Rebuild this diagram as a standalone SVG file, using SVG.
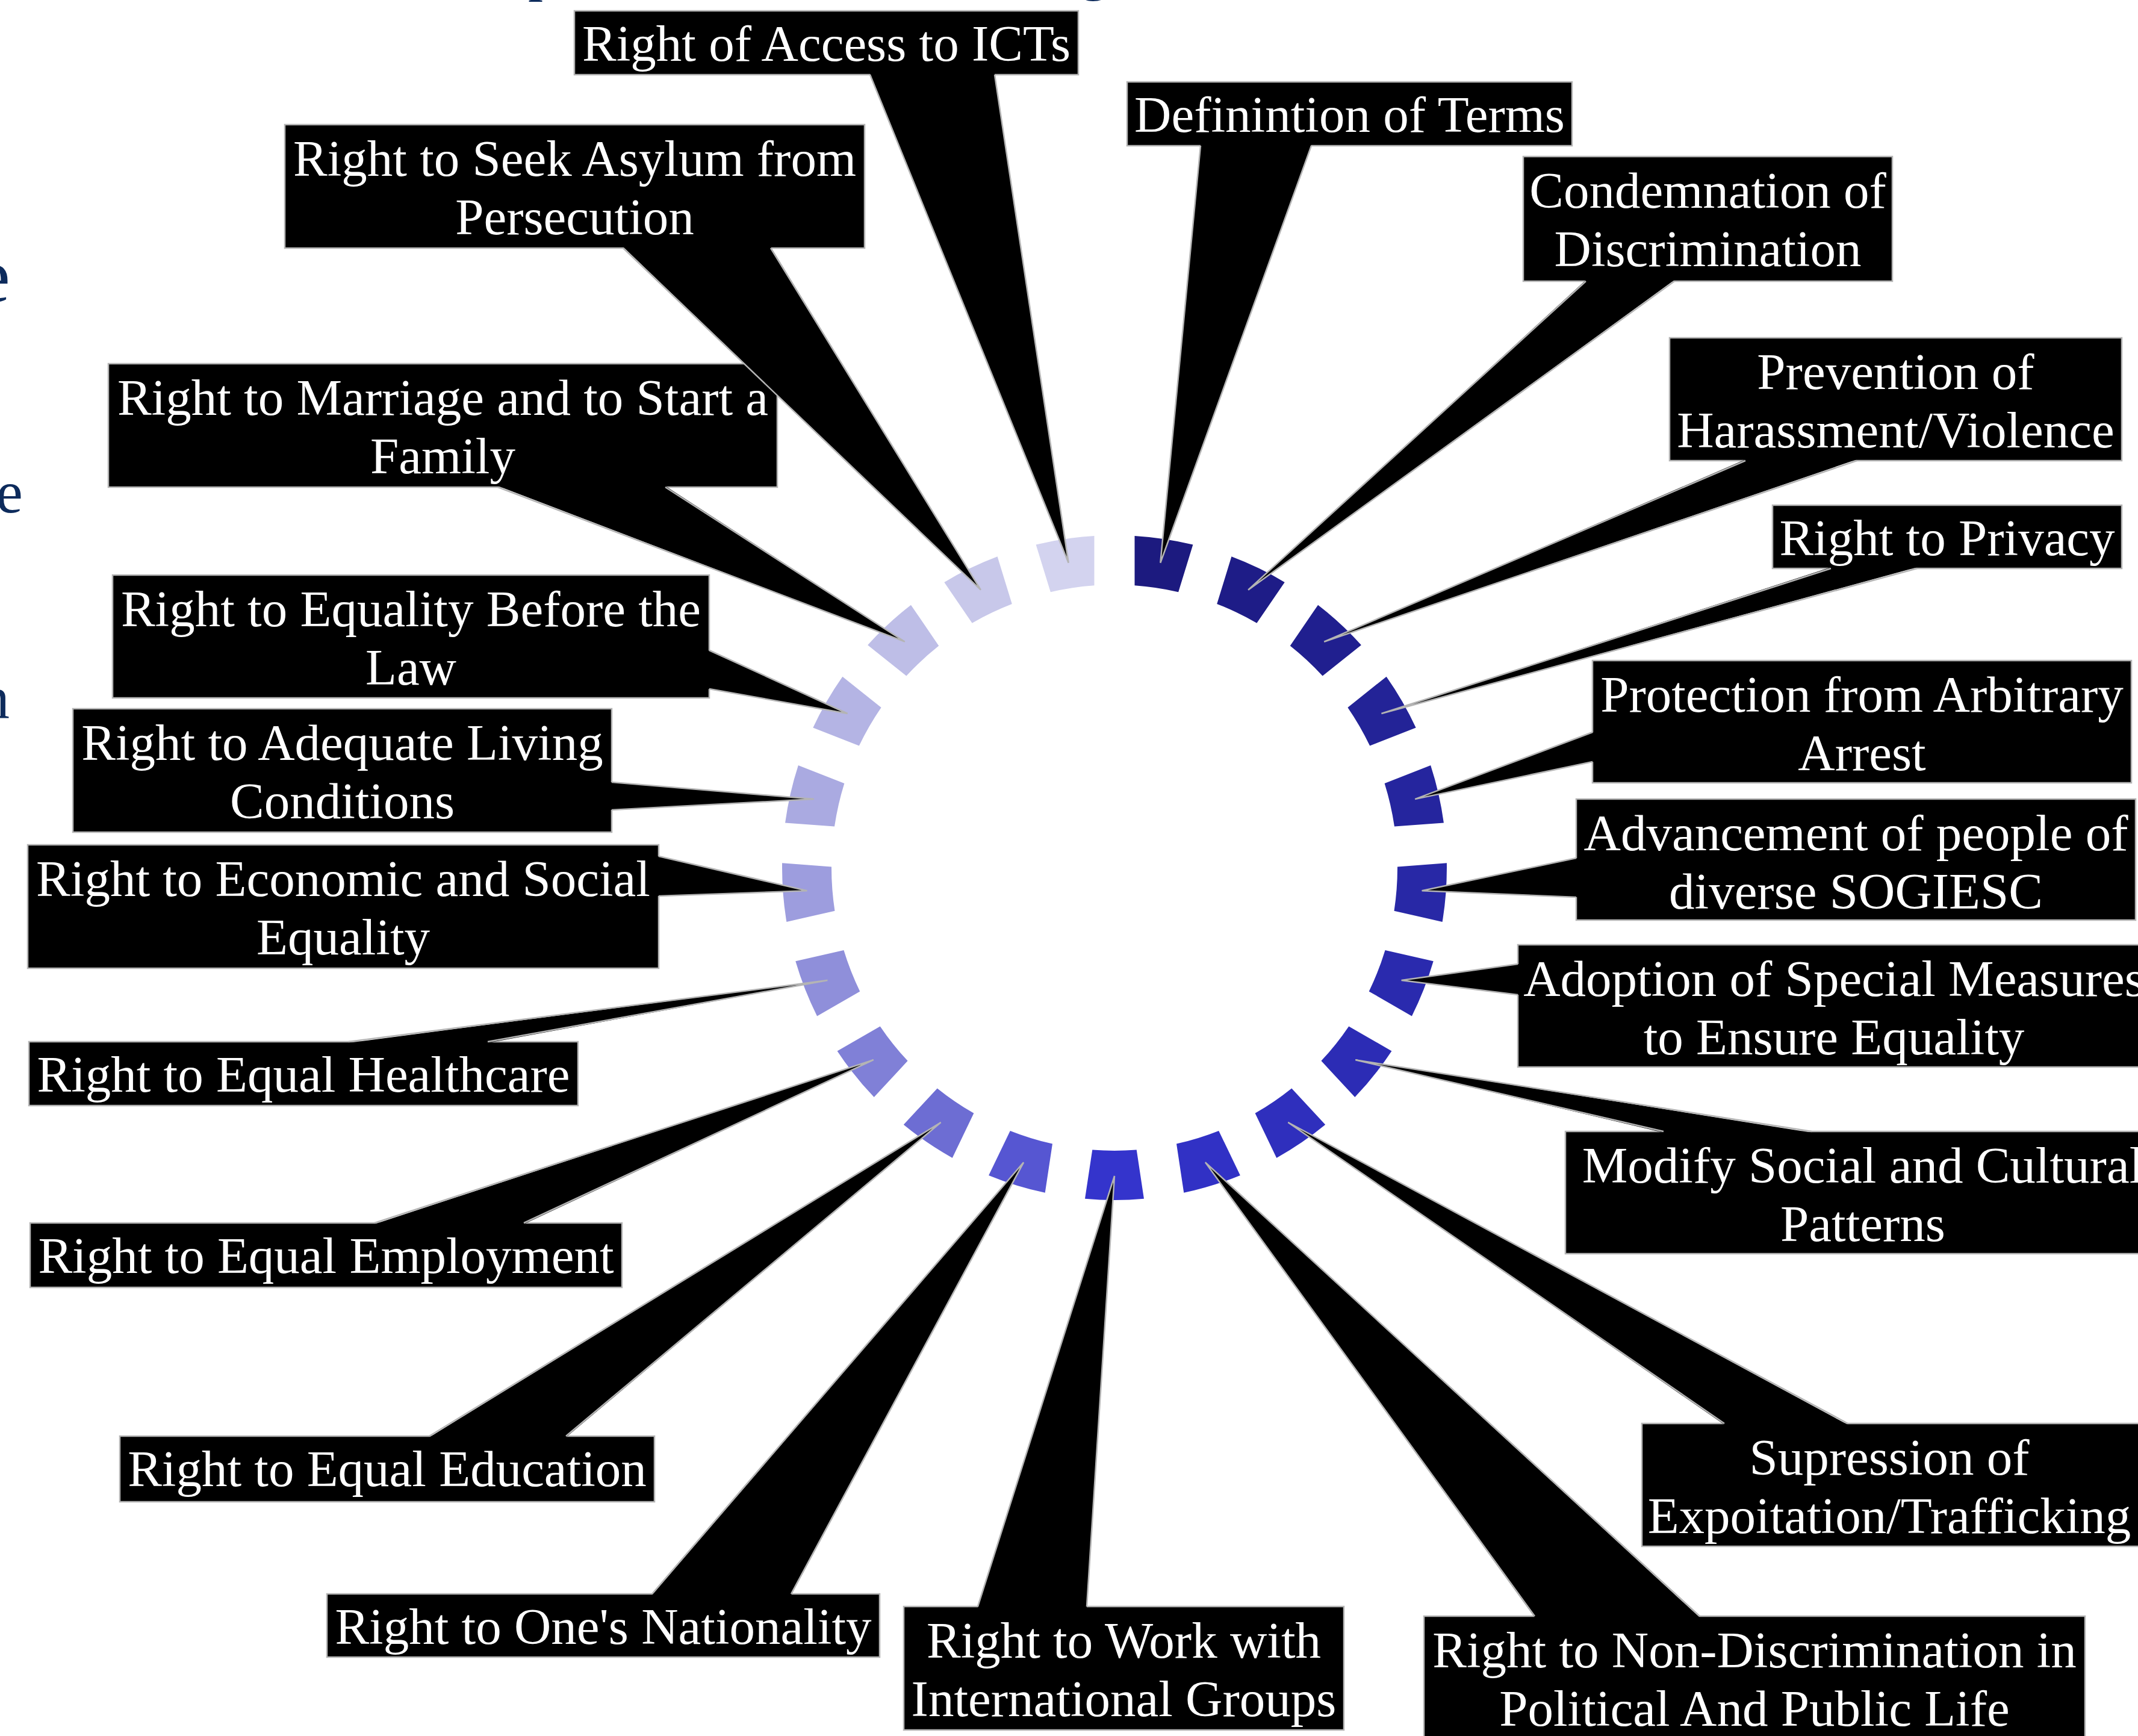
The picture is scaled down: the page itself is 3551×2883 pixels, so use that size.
<svg xmlns="http://www.w3.org/2000/svg" xmlns:xlink="http://www.w3.org/1999/xlink" width="3551" height="2883" viewBox="0 0 3551 2883">
<style>
.box{fill:#000;stroke:#b4b4b4;stroke-width:2.5}
.wedge{fill:#000}
.edge{fill:none;stroke:#b4b4b4;stroke-width:2.5}
.lbl{fill:#fff;font-family:"Liberation Serif","Times New Roman",serif;font-size:85px;text-anchor:middle}
.frag{fill:#0d2b5c;font-family:"Liberation Serif","Times New Roman",serif}
</style>
<defs>
<path id="seg" d="M-48.99,-549.82 A552,552 0 0 1 48.99,-549.82 L36.73,-468.56 A470,470 0 0 0 -36.73,-468.56 Z"/>
</defs>
<rect width="3551" height="2883" fill="#fff"/>
<g id="fragments">
<text class="frag" x="877" y="-18" font-size="100">p</text>
<text class="frag" x="1792" y="-19" font-size="100">g</text>
<text class="frag" x="17" y="501" font-size="130" text-anchor="end">e</text>
<text class="frag" x="38" y="851" font-size="100" text-anchor="end">e</text>
<text class="frag" x="16" y="1192" font-size="100" text-anchor="end">n</text>
</g>
<g id="ring">
<use xlink:href="#seg" href="#seg" fill="#1c1a7f" transform="translate(1851,1441) rotate(8.571)"/>
<use xlink:href="#seg" href="#seg" fill="#1e1c87" transform="translate(1851,1441) rotate(25.714)"/>
<use xlink:href="#seg" href="#seg" fill="#201f8f" transform="translate(1851,1441) rotate(42.857)"/>
<use xlink:href="#seg" href="#seg" fill="#232397" transform="translate(1851,1441) rotate(60)"/>
<use xlink:href="#seg" href="#seg" fill="#25259e" transform="translate(1851,1441) rotate(77.143)"/>
<use xlink:href="#seg" href="#seg" fill="#2828a6" transform="translate(1851,1441) rotate(94.286)"/>
<use xlink:href="#seg" href="#seg" fill="#2a2aae" transform="translate(1851,1441) rotate(111.429)"/>
<use xlink:href="#seg" href="#seg" fill="#2c2cb5" transform="translate(1851,1441) rotate(128.571)"/>
<use xlink:href="#seg" href="#seg" fill="#2f2fbd" transform="translate(1851,1441) rotate(145.714)"/>
<use xlink:href="#seg" href="#seg" fill="#3131c5" transform="translate(1851,1441) rotate(162.857)"/>
<use xlink:href="#seg" href="#seg" fill="#3434cc" transform="translate(1851,1441) rotate(180)"/>
<use xlink:href="#seg" href="#seg" fill="#5656d2" transform="translate(1851,1441) rotate(197.143)"/>
<use xlink:href="#seg" href="#seg" fill="#6d6dd3" transform="translate(1851,1441) rotate(214.286)"/>
<use xlink:href="#seg" href="#seg" fill="#8080d7" transform="translate(1851,1441) rotate(231.429)"/>
<use xlink:href="#seg" href="#seg" fill="#8f8fda" transform="translate(1851,1441) rotate(248.571)"/>
<use xlink:href="#seg" href="#seg" fill="#9d9dde" transform="translate(1851,1441) rotate(265.714)"/>
<use xlink:href="#seg" href="#seg" fill="#aaaae1" transform="translate(1851,1441) rotate(282.857)"/>
<use xlink:href="#seg" href="#seg" fill="#b4b4e4" transform="translate(1851,1441) rotate(300)"/>
<use xlink:href="#seg" href="#seg" fill="#bebee7" transform="translate(1851,1441) rotate(317.143)"/>
<use xlink:href="#seg" href="#seg" fill="#c8c8ea" transform="translate(1851,1441) rotate(334.286)"/>
<use xlink:href="#seg" href="#seg" fill="#d3d3ef" transform="translate(1851,1441) rotate(351.429)"/>
</g>
<g id="nodes">
<g id="n-icts"><rect class="box" x="954" y="18" width="837" height="106"/><text class="lbl" x="1372.5" y="101">Right of Access to ICTs</text></g>
<g id="n-asylum"><rect class="box" x="473" y="207" width="963" height="205"/><text class="lbl" x="954.5" y="292">Right to Seek Asylum from</text><text class="lbl" x="954.5" y="389">Persecution</text></g>
<g id="n-marriage"><rect class="box" x="180" y="604" width="1111" height="205"/><text class="lbl" x="735.5" y="689">Right to Marriage and to Start a</text><text class="lbl" x="735.5" y="786">Family</text></g>
<g id="n-equality"><rect class="box" x="187" y="955" width="991" height="204"/><text class="lbl" x="682.5" y="1040">Right to Equality Before the</text><text class="lbl" x="682.5" y="1137">Law</text></g>
<g id="n-living"><rect class="box" x="121" y="1177" width="895" height="205"/><text class="lbl" x="568.5" y="1262">Right to Adequate Living</text><text class="lbl" x="568.5" y="1359">Conditions</text></g>
<g id="n-economic"><rect class="box" x="46" y="1403" width="1048" height="205"/><text class="lbl" x="570" y="1488">Right to Economic and Social</text><text class="lbl" x="570" y="1585">Equality</text></g>
<g id="n-health"><rect class="box" x="48" y="1730" width="912" height="106"/><text class="lbl" x="504" y="1813">Right to Equal Healthcare</text></g>
<g id="n-employment"><rect class="box" x="50" y="2031" width="983" height="107"/><text class="lbl" x="541.5" y="2114">Right to Equal Employment</text></g>
<g id="n-education"><rect class="box" x="199" y="2385" width="888" height="109"/><text class="lbl" x="643" y="2468">Right to Equal Education</text></g>
<g id="n-nationality"><rect class="box" x="543" y="2647" width="918" height="105"/><text class="lbl" x="1002" y="2730">Right to One's Nationality</text></g>
<g id="n-work"><rect class="box" x="1501" y="2668" width="731" height="205"/><text class="lbl" x="1866.5" y="2753">Right to Work with</text><text class="lbl" x="1866.5" y="2850">International Groups</text></g>
<g id="n-political"><rect class="box" x="2365" y="2684" width="1098" height="216"/><text class="lbl" x="2914" y="2769">Right to Non-Discrimination in</text><text class="lbl" x="2914" y="2866">Political And Public Life</text></g>
<g id="n-trafficking"><rect class="box" x="2727" y="2364" width="843" height="204"/><text class="lbl" x="3138" y="2449">Supression of</text><text class="lbl" x="3138" y="2546">Expoitation/Trafficking</text></g>
<g id="n-modify"><rect class="box" x="2600" y="1879" width="990" height="203"/><text class="lbl" x="3094" y="1964">Modify Social and Cultural</text><text class="lbl" x="3094" y="2061">Patterns</text></g>
<g id="n-adoption"><rect class="box" x="2521" y="1569" width="1069" height="203"/><text class="lbl" x="3046" y="1654">Adoption of Special Measures</text><text class="lbl" x="3046" y="1751">to Ensure Equality</text></g>
<g id="n-advancement"><rect class="box" x="2618" y="1327" width="929" height="201"/><text class="lbl" x="3082.5" y="1412">Advancement of people of</text><text class="lbl" x="3082.5" y="1509">diverse SOGIESC</text></g>
<g id="n-arrest"><rect class="box" x="2645" y="1097" width="895" height="203"/><text class="lbl" x="3092.5" y="1182">Protection from Arbitrary</text><text class="lbl" x="3092.5" y="1279">Arrest</text></g>
<g id="n-privacy"><rect class="box" x="2944" y="839" width="580" height="105"/><text class="lbl" x="3234" y="922">Right to Privacy</text></g>
<g id="n-harassment"><rect class="box" x="2773" y="561" width="751" height="204"/><text class="lbl" x="3148.5" y="646">Prevention of</text><text class="lbl" x="3148.5" y="743">Harassment/Violence</text></g>
<g id="n-condemnation"><rect class="box" x="2530" y="260" width="613" height="207"/><text class="lbl" x="2836.5" y="345">Condemnation of</text><text class="lbl" x="2836.5" y="442">Discrimination</text></g>
<g id="n-definition"><rect class="box" x="1872" y="136" width="739" height="106"/><text class="lbl" x="2241.5" y="219">Definintion of Terms</text></g>
</g>
<g id="connectors">
<polygon class="wedge" points="1445,122 1774.7,934.7 1652,122"/><polyline class="edge" points="1445,124 1774.7,934.7 1652,124"/>
<polygon class="wedge" points="1035,410 1628.9,979.7 1280,410"/><polyline class="edge" points="1035,412 1628.9,979.7 1280,412"/>
<polygon class="wedge" points="827,807 1502.8,1065.7 1105,807"/><polyline class="edge" points="827,809 1502.8,1065.7 1105,809"/>
<polygon class="wedge" points="1176,1080 1407.6,1185 1176,1144"/><polyline class="edge" points="1178,1080 1407.6,1185 1178,1144"/>
<polygon class="wedge" points="1014,1299 1351.8,1327.1 1014,1345"/><polyline class="edge" points="1016,1299 1351.8,1327.1 1016,1345"/>
<polygon class="wedge" points="1092,1422 1340.4,1479.3 1092,1488"/><polyline class="edge" points="1094,1422 1340.4,1479.3 1094,1488"/>
<polygon class="wedge" points="579,1732 1374.4,1628.1 810,1732"/><polyline class="edge" points="579,1730 1374.4,1628.1 810,1730"/>
<polygon class="wedge" points="622,2033 1450.7,1760.2 870,2033"/><polyline class="edge" points="622,2031 1450.7,1760.2 870,2031"/>
<polygon class="wedge" points="713,2387 1562.6,1864 940,2387"/><polyline class="edge" points="713,2385 1562.6,1864 940,2385"/>
<polygon class="wedge" points="1083,2649 1700.1,1930.3 1314,2649"/><polyline class="edge" points="1083,2647 1700.1,1930.3 1314,2647"/>
<polygon class="wedge" points="1624,2670 1851,1953 1805,2670"/><polyline class="edge" points="1624,2668 1851,1953 1805,2668"/>
<polygon class="wedge" points="2549,2686 2001.9,1930.3 2823,2686"/><polyline class="edge" points="2549,2684 2001.9,1930.3 2823,2684"/>
<polygon class="wedge" points="2864,2366 2139.4,1864 3069,2366"/><polyline class="edge" points="2864,2364 2139.4,1864 3069,2364"/>
<polygon class="wedge" points="2763,1881 2251.3,1760.2 3009,1881"/><polyline class="edge" points="2763,1879 2251.3,1760.2 3009,1879"/>
<polygon class="wedge" points="2523,1601 2327.6,1628.1 2523,1652"/><polyline class="edge" points="2521,1601 2327.6,1628.1 2521,1652"/>
<polygon class="wedge" points="2620,1425 2361.6,1479.3 2620,1490"/><polyline class="edge" points="2618,1425 2361.6,1479.3 2618,1490"/>
<polygon class="wedge" points="2647,1216 2350.2,1327.1 2647,1265"/><polyline class="edge" points="2645,1216 2350.2,1327.1 2645,1265"/>
<polygon class="wedge" points="3041,942 2294.4,1185 3184,942"/><polyline class="edge" points="3041,944 2294.4,1185 3184,944"/>
<polygon class="wedge" points="2899,763 2199.2,1065.7 3084,763"/><polyline class="edge" points="2899,765 2199.2,1065.7 3084,765"/>
<polygon class="wedge" points="2634,465 2073.1,979.7 2781,465"/><polyline class="edge" points="2634,467 2073.1,979.7 2781,467"/>
<polygon class="wedge" points="1994,240 1927.3,934.7 2178,240"/><polyline class="edge" points="1994,242 1927.3,934.7 2178,242"/>
</g>
</svg>
